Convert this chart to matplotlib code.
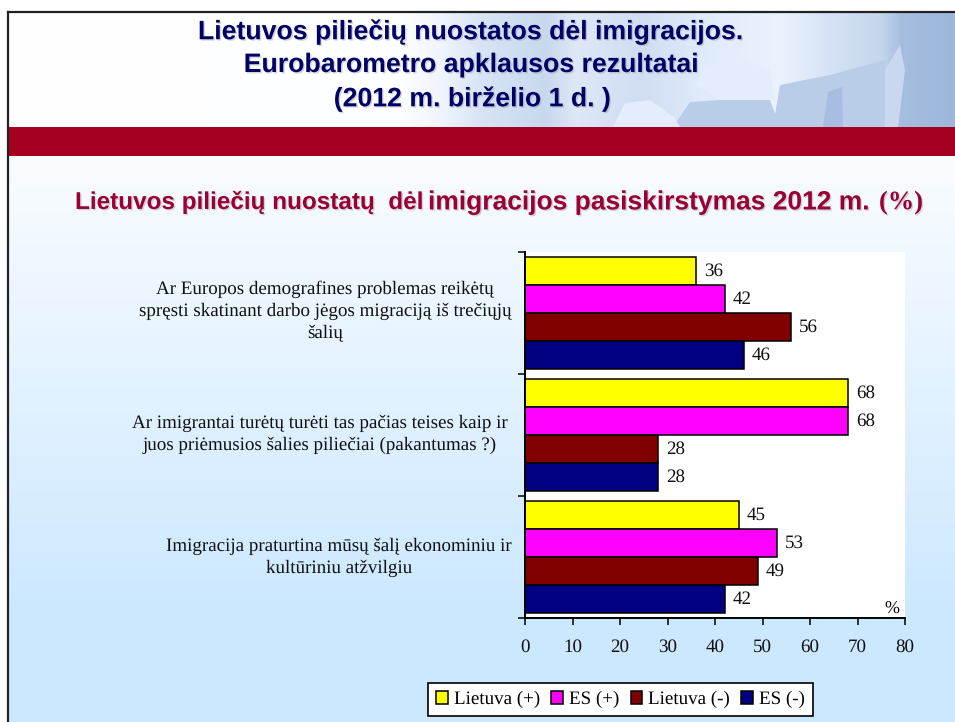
# -*- coding: utf-8 -*-
import matplotlib.pyplot as plt
import matplotlib.patheffects as pe
from matplotlib.patches import Polygon, Rectangle
import numpy as np

plt.rcParams['text.hinting'] = 'no_hinting'
plt.rcParams['text.hinting_factor'] = 1

W, H = 955, 722

questions = ['Ar Europos demografines problemas reikėtų\nspręsti skatinant darbo jėgos migraciją iš trečiųjų\nšalių',
             'Ar imigrantai turėtų turėti tas pačias teises kaip ir\njuos priėmusios šalies piliečiai (pakantumas ?)',
             'Imigracija praturtina mūsų šalį ekonominiu ir\nkultūriniu atžvilgiu']
series_names = ['Lietuva (+)', 'ES (+)', 'Lietuva (-)', 'ES (-)']
lt_plus = [36, 68, 45]
es_plus = [42, 68, 53]
lt_minus = [56, 28, 49]
es_minus = [46, 28, 42]
series_colors = ['#FFFF00', '#FF00FF', '#800000', '#000080']
x_ticks = [0, 10, 20, 30, 40, 50, 60, 70, 80]

title_lines = ['Lietuvos piliečių nuostatos dėl imigracijos.',
               'Eurobarometro apklausos rezultatai',
               '(2012 m. birželio 1 d. )']

fig = plt.figure(figsize=(W / 100, H / 100), dpi=100, facecolor='white')

# slide background, in pixel coordinates
bg = fig.add_axes([0, 0, 1, 1])
bg.axis('off')

rows = np.arange(156, H)
grad = np.clip((rows - 156) / (610 - 156), 0, 1)[:, None, None]
top_col = np.array([0.98, 0.99, 1.0])
bot_col = np.array([0.80, 0.91, 1.0])
bg.imshow(top_col + grad * (bot_col - top_col), extent=[8, W, H, 156], aspect='auto', zorder=0)

# header with a pale world map on the right
px = np.arange(8, W)
prof_x = [8, 400, 440, 480, 545, 575, 640, 700, 780, 830, 880, 900, 955]
prof_r = [255, 253, 240, 216, 200, 222, 208, 224, 234, 213, 197, 165, 157]
prof_g = [255, 254, 245, 228, 216, 232, 221, 235, 242, 226, 213, 190, 183]
prof_b = [255, 255, 252, 245, 238, 247, 242, 250, 253, 245, 236, 223, 219]
head_img = np.dstack([np.interp(px, prof_x, prof_r), np.interp(px, prof_x, prof_g),
                      np.interp(px, prof_x, prof_b)]) / 255
bg.imshow(head_img, extent=[8, W, 127, 13], aspect='auto', zorder=1)

land = [[(673, 127), (690, 102), (720, 100), (770, 100), (780, 127)],
        [(773, 127), (780, 85), (830, 75), (885, 60), (890, 127)]]
for pts in land:
    bg.add_patch(Polygon(pts, closed=True, fc='#BACDE8', ec='none', zorder=2))
lighter = [[(613, 127), (625, 103), (650, 100), (675, 118), (680, 127)],
           [(697, 85), (705, 65), (745, 60), (770, 70), (775, 100), (720, 100)],
           [(885, 127), (885, 70), (900, 45), (905, 70), (898, 127)]]
for pts, col in zip(lighter, ['#E4EDFB', '#E4EDFB', '#C9D8EE']):
    bg.add_patch(Polygon(pts, closed=True, fc=col, ec='none', zorder=2))
bg.add_patch(Polygon([(823, 127), (828, 92), (842, 87), (843, 127)], closed=True, fc='#A8BEE0', ec='none', zorder=2))

bg.add_patch(Rectangle((8, 127), W - 8, 29, fc='#A50021', ec='none', zorder=3))
bg.plot([8, W], [12, 12], color='#222222', lw=1.6, zorder=4)
bg.plot([8, 8], [12, H], color='#222222', lw=1.6, zorder=4)
bg.set_xlim(0, W)
bg.set_ylim(H, 0)

shadow = pe.SimplePatchShadow(offset=(1, -1), shadow_rgbFace='#888888', alpha=0.35)
for line, y in zip(title_lines, [32, 65, 99]):
    t = bg.text(474, y, line, ha='center', va='center', family='Liberation Sans', weight='bold',
                fontsize=19.2, color='#000066', zorder=5)
    t.set_path_effects([shadow, pe.Normal()])

# subtitle comes in three sizes in the slide
sub_parts = [('Lietuvos piliečių nuostatų  dėl', 75, 17.5, 'Liberation Sans'),
             ('imigracijos pasiskirstymas 2012 m.', 428, 19, 'Liberation Sans'),
             ('(%)', 879, 19, 'Liberation Serif')]
for part, x, size, fam in sub_parts:
    t = bg.text(x, 200, part, ha='left', va='center_baseline', family=fam, weight='bold', fontsize=size,
                color='#990033', zorder=5)
    t.set_path_effects([shadow, pe.Normal()])

# chart
x0, x1, y0, y1 = 525, 905, 252, 618
ax = fig.add_axes([x0 / W, 1 - y1 / H, (x1 - x0) / W, (y1 - y0) / H], facecolor='white')
all_series = [lt_plus, es_plus, lt_minus, es_minus]
bar_h = 0.23
pos = np.arange(len(questions)) + 0.5
for i, vals in enumerate(all_series):
    ys = pos + (i - 1.5) * bar_h
    bars = ax.barh(ys, vals, height=bar_h, color=series_colors[i], edgecolor='black', linewidth=1.1,
                   label=series_names[i])
    ax.bar_label(bars, padding=6, fontsize=13.5, family='Liberation Serif', color='#111111')
ax.set_xlim(0, 80)
ax.set_ylim(3, 0)
ax.set_xticks(x_ticks)
ax.set_yticks([0, 1, 2, 3])
ax.set_yticklabels([])
ax.tick_params(axis='x', length=5, width=1.1, pad=10, labelsize=13.5, labelfontfamily='Liberation Serif',
               labelcolor='#111111')
ax.tick_params(axis='y', length=5, width=1.1)
for s in ['top', 'right']:
    ax.spines[s].set_visible(False)
ax.spines['left'].set_linewidth(1.4)
ax.spines['bottom'].set_linewidth(1.4)
ax.text(77.3, 3.0, '%', ha='center', va='bottom', family='Liberation Serif', fontsize=13)

# question labels
for q, y, xc in zip(questions, [311, 434, 557], [325, 320, 339]):
    bg.text(xc, y, q, ha='center', va='center', family='Liberation Serif', fontsize=13.5,
            linespacing=1.36, color='#111111', zorder=5)

handles, labels = ax.get_legend_handles_labels()
leg = fig.legend(handles, labels, ncol=4, loc='center', bbox_to_anchor=(620.5 / W, 1 - 699.5 / H), fancybox=False,
                 framealpha=1, edgecolor='black', facecolor='white',
                 prop={'family': 'Liberation Serif', 'size': 13.5}, handlelength=0.63, handleheight=0.63,
                 handletextpad=0.32, columnspacing=0.6, borderpad=0.42, borderaxespad=0)
leg.get_frame().set_linewidth(1.2)

fig.savefig('out.png', dpi=100)
